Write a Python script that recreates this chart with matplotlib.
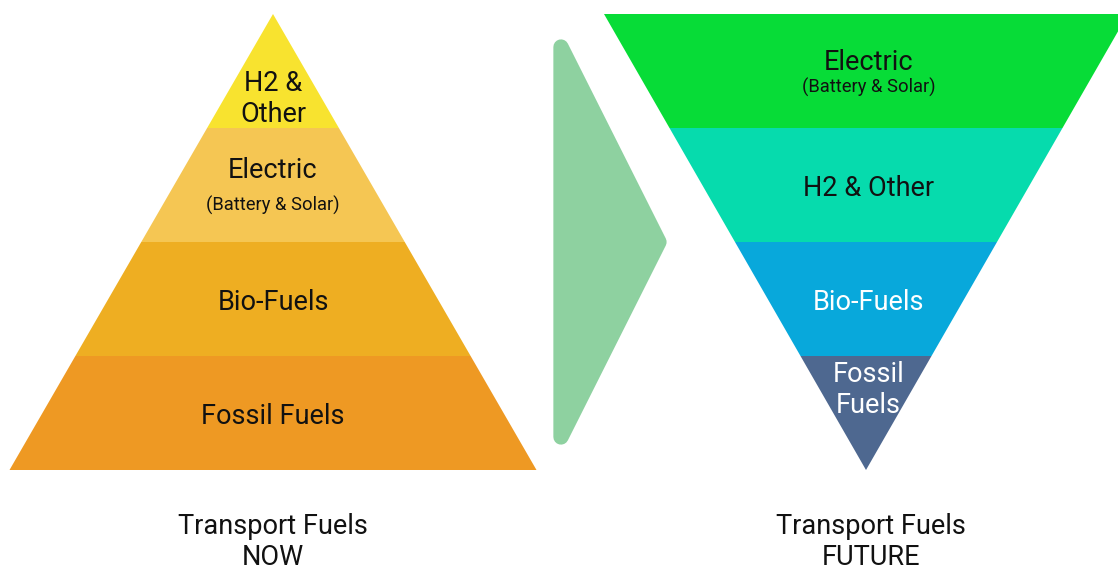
"""Transport fuels: pyramid now vs inverted pyramid future."""

import matplotlib

matplotlib.use("Agg")
import matplotlib.pyplot as plt
from matplotlib.patches import Polygon

plt.rcParams["font.family"] = ["Roboto", "DejaVu Sans"]

# layers listed bottom -> top for NOW, top -> bottom for FUTURE
now_labels = ["Fossil Fuels", "Bio-Fuels", "Electric", "H2 &\nOther"]
now_subs = ["", "", "(Battery & Solar)", ""]
now_colors = ["#EE9923", "#EEAE22", "#F5C653", "#F8E32F"]
now_text = ["#111111"] * 4

future_labels = ["Electric", "H2 & Other", "Bio-Fuels", "Fossil\nFuels"]
future_subs = ["(Battery & Solar)", "", "", ""]
future_colors = ["#07DC37", "#06DBAD", "#08A8DB", "#4E6890"]
future_text = ["#111111", "#111111", "white", "white"]

captions = ["Transport Fuels\nNOW", "Transport Fuels\nFUTURE"]

W, H = 1118, 568
fig = plt.figure(figsize=(W / 100, H / 100), dpi=100)
ax = fig.add_axes([0, 0, 1, 1])
ax.set_xlim(0, W)
ax.set_ylim(H, 0)
ax.set_axis_off()

top, base = 14, 470
n = len(now_labels)
step = (base - top) / n
FS, FS_SUB, GAP = 19.5, 13.2, 31.5
DY = 3  # va="center" includes descenders; nudge down to match visual centre


def half_width(y, y0, y1, hw):
    # linear from hw at y0 to 0 at y1
    return hw * (y1 - y) / (y1 - y0)


def lines(cx, yc, text, color, fs=FS, gap=GAP):
    parts = text.split("\n")
    y0 = yc - gap * (len(parts) - 1) / 2 + DY
    for k, p in enumerate(parts):
        ax.text(cx, y0 + k * gap, p, ha="center", va="center", fontsize=fs, color=color)


def draw_label(cx, yc, label, sub, color, sub_off):
    if sub:
        lines(cx, yc + sub_off[0], label, color)
        lines(cx, yc + sub_off[1], sub, color, FS_SUB)
    else:
        lines(cx, yc, label, color)


# NOW pyramid
cx_l, hw_l = 273, 263.5
for i, (lab, sub, col, tc) in enumerate(zip(now_labels, now_subs, now_colors, now_text)):
    yb = base - i * step
    yt = yb - step
    wb = half_width(yb, base, top, hw_l)
    wt = half_width(yt, base, top, hw_l)
    ax.add_patch(Polygon([(cx_l - wb, yb), (cx_l + wb, yb), (cx_l + wt, yt), (cx_l - wt, yt)],
                         closed=True, facecolor=col, edgecolor="none"))
    yc = (yb + yt) / 2
    if i == n - 1:
        yc += 25  # apex layer: text sits low
    draw_label(cx_l, yc, lab, sub, tc, (-17, 17))

# FUTURE inverted pyramid
cx_r, hw_r = 866, 262
for i, (lab, sub, col, tc) in enumerate(zip(future_labels, future_subs, future_colors, future_text)):
    yt = top + i * step
    yb = yt + step
    wt = half_width(yt, top, base, hw_r)
    wb = half_width(yb, top, base, hw_r)
    ax.add_patch(Polygon([(cx_r - wt, yt), (cx_r + wt, yt), (cx_r + wb, yb), (cx_r - wb, yb)],
                         closed=True, facecolor=col, edgecolor="none"))
    yc = (yb + yt) / 2
    if i == n - 1:
        yc -= 26  # apex layer: text sits high
    draw_label(cx_r + 2.5, yc, lab, sub, tc, (-11, 13))

# arrow chevron with rounded corners
ax.add_patch(Polygon([(561, 47), (561, 437), (659, 242)], closed=True,
                     facecolor="#8ED1A0", edgecolor="#8ED1A0", linewidth=11,
                     joinstyle="round"))

for cx, cap in zip([cx_l, cx_r + 5], captions):
    lines(cx, 539, cap, "#111111", gap=30.5)

fig.savefig("out.png", dpi=100)
